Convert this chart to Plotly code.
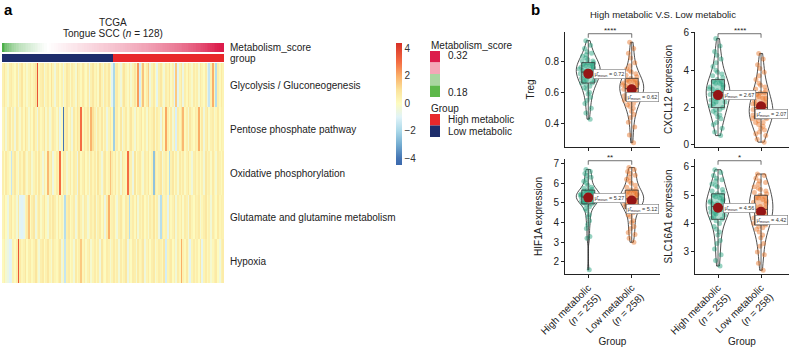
import plotly.graph_objects as go

W, H = 790, 347
FONT = "Liberation Sans, Arial, sans-serif"

# ---------------- Panel a data ----------------
PATHWAYS = ["Glycolysis / Gluconeogenesis", "Pentose phosphate pathway",
            "Oxidative phosphorylation", "Glutamate and glutamine metabolism", "Hypoxia"]

METABOLISM_SCORE = [
    0.180, 0.186, 0.190, 0.193, 0.196, 0.198, 0.200, 0.202, 0.204, 0.205, 0.207, 0.208, 0.209, 0.210, 0.211, 0.212,
    0.213, 0.214, 0.215, 0.216, 0.217, 0.218, 0.219, 0.220, 0.221, 0.221, 0.222, 0.223, 0.224, 0.224, 0.225, 0.226,
    0.227, 0.227, 0.228, 0.229, 0.229, 0.230, 0.231, 0.231, 0.232, 0.233, 0.233, 0.234, 0.235, 0.235, 0.236, 0.237,
    0.237, 0.238, 0.239, 0.239, 0.240, 0.241, 0.241, 0.242, 0.243, 0.243, 0.244, 0.245, 0.245, 0.246, 0.247, 0.247,
    0.248, 0.249, 0.249, 0.250, 0.251, 0.251, 0.252, 0.253, 0.254, 0.254, 0.255, 0.256, 0.257, 0.257, 0.258, 0.259,
    0.260, 0.261, 0.261, 0.262, 0.263, 0.264, 0.265, 0.266, 0.267, 0.268, 0.269, 0.270, 0.271, 0.272, 0.273, 0.274,
    0.275, 0.276, 0.277, 0.278, 0.279, 0.280, 0.281, 0.282, 0.284, 0.285, 0.286, 0.288, 0.289, 0.290, 0.292, 0.293,
    0.295, 0.296, 0.298, 0.300, 0.302, 0.304, 0.306, 0.308, 0.310, 0.312, 0.314, 0.316, 0.318, 0.319, 0.320, 0.321,
]
N_LOW, N_HIGH = 64, 64  # low metabolic samples first, then high metabolic

GLYCOLYSIS = [
    0.4, 0.8, 0.2, -0.3, 0.5, 0.7, 0.3, 0.0, 0.6, -0.5, 0.4, 0.9, 0.1, 0.5, -0.2, 0.3,
    0.6, 0.1, 0.4, 0.8, 3.6, 0.2, 0.5, 0.7, -0.4, 0.3, 0.6, 0.1, 1.0, 0.3, -0.5, 0.5,
    0.7, 0.0, 0.4, -0.6, 0.2, 0.8, 0.5, -0.1, 0.6, 0.3, -0.3, 0.9, 0.4, 0.1, 0.7, 0.3,
    0.0, 0.6, -0.6, 0.4, 0.8, 0.2, 0.5, -0.1, 1.0, 0.3, -0.4, 0.6, 0.3, 0.8, 0.0, -0.9,
    -2.0, 0.5, 0.7, 0.1, -0.5, 0.4, 0.9, 0.3, -0.1, 0.6, -0.3, 0.3, 0.8, 0.2, 2.3, -1.2,
    0.4, 1.6, 0.1, 0.6, 1.4, -0.5, 0.3, 0.7, 0.0, -0.8, 0.5, 0.8, 0.2, -0.4, 0.6, 0.3,
    0.9, -0.1, 0.4, -1.0, 1.5, -0.9, 0.3, 0.7, -0.6, 0.5, 0.1, 0.8, 0.3, -0.2, 0.6, 0.2,
    0.5, -0.3, 0.7, 0.3, 0.0, 0.6, -0.7, -1.5, 0.4, 2.0, 0.2, -1.8, 0.5, 0.1, 0.7, 0.3,
]
PENTOSE = [
    0.2, 0.6, -0.4, 0.4, 0.8, -0.1, 0.5, -0.5, 0.7, 0.3, -0.2, 0.6, 0.1, 0.9, 0.4, -0.3,
    0.5, 0.0, 0.8, 0.3, -0.6, 0.6, 0.1, 0.4, 0.9, -0.2, 0.5, -0.4, 0.2, 0.7, 0.4, -0.1,
    0.6, -0.8, 0.1, -4.0, 0.5, 0.8, 0.0, 0.4, -0.5, 0.7, 0.2, 0.9, 0.5, 3.0, 0.1, 0.6,
    0.3, 0.8, -0.1, 1.9, 1.0, 0.4, -0.3, 0.6, 0.2, 0.8, 0.0, 0.5, -0.6, 0.3, 0.7, 0.1,
    -2.2, 0.4, 0.6, 0.0, 0.8, -0.5, 0.3, 0.7, -0.1, 0.5, 0.9, 0.2, -0.4, 0.6, 0.1, 0.4,
    0.8, 0.0, 0.5, -0.3, 0.7, 0.2, 0.4, 0.9, -0.2, 0.6, 0.3, -0.6, 0.8, 0.1, 2.1, 0.5,
    0.0, 0.7, -0.4, 0.4, -1.1, 0.6, 0.2, 0.9, 1.8, 0.1, 0.5, -0.3, 0.8, 0.3, 0.0, 0.6,
    0.4, 2.0, 0.1, 0.7, -0.5, 0.5, 0.8, -0.1, 0.4, 0.6, -0.2, 0.2, 0.7, 0.0, 0.5, 0.3,
]
OXIDATIVE = [
    0.5, 0.0, 0.7, 0.3, -0.1, -1.5, 0.4, 0.8, 0.1, -0.4, 0.6, 0.2, 0.9, 0.4, -0.2, 0.5,
    0.7, -0.3, 0.3, 0.6, 0.0, 0.8, 0.2, -0.5, 0.5, -0.1, 1.8, 0.4, 0.7, -0.6, 0.1, 0.6,
    0.3, 3.0, 0.0, 0.8, 0.5, -0.4, 0.2, 0.7, -0.1, 0.6, 0.4, -0.7, 0.9, 0.1, 0.5, 0.8,
    0.0, 0.4, -0.3, 0.7, 0.2, 0.6, -0.1, 0.9, 0.3, -0.5, 0.5, 0.8, 0.1, 0.4, 1.6, 0.6,
    0.2, 0.7, -0.1, 0.5, -0.4, 0.8, 0.3, 0.1, 3.0, 0.6, 0.4, -0.6, 0.9, 0.0, 0.5, 0.7,
    0.1, -0.3, 0.6, 0.3, 0.8, 0.0, 0.4, -2.5, 0.7, 0.2, 0.5, 0.9, -0.4, 0.3, 0.6, 0.1,
    -1.8, 0.4, 0.8, 0.0, 0.5, -0.3, 0.7, 0.2, 0.6, -0.1, 0.4, 0.8, 0.1, -0.5, 0.5, 0.7,
    0.2, 0.6, 0.0, 0.4, -0.4, 0.8, 0.3, 0.5, -0.1, 0.7, 0.2, -0.3, 0.6, 0.4, 0.1, 0.5,
]
GLUTAMATE = [
    0.3, 0.6, 0.0, -0.6, 0.5, 0.8, 0.1, 0.4, -0.4, 0.7, -0.9, -1.0, -0.8, 0.2, 0.6, 1.6,
    0.0, 0.5, 0.8, -0.5, 0.3, 0.7, -0.1, 0.4, 0.9, 0.1, -0.4, 0.6, 0.2, 0.8, 0.5, -0.1,
    0.7, 0.1, 0.4, -0.3, -1.8, 0.5, 0.8, 0.0, 0.3, 0.6, -0.5, 0.2, 0.9, 0.4, -0.2, 0.7,
    0.5, -0.4, 0.1, 0.6, 0.3, 0.8, -0.3, 0.4, 0.7, 0.0, 0.5, -0.6, 0.6, 2.0, 0.2, 0.4,
    0.6, 0.0, -0.5, 0.5, 0.8, 0.2, -0.1, 0.7, 0.4, -1.8, 0.3, 0.6, 0.1, 0.8, -0.4, 0.5,
    0.2, 0.7, 0.0, 0.4, -0.3, 0.6, 0.3, 0.9, 0.1, 0.5, -0.6, -1.8, 0.7, 0.2, 0.4, -0.9,
    0.6, 0.1, 0.4, 0.8, -0.4, 0.5, 0.2, 0.7, -0.1, 0.6, 0.4, -0.5, 0.8, 0.3, 0.0, 0.6,
    0.4, 0.7, -0.3, 0.2, 0.5, 0.8, 0.1, 0.4, -0.4, 0.6, 0.3, 0.0, 0.7, 0.2, 0.5, 0.4,
]
HYPOXIA = [
    0.1, 0.4, -0.3, -0.6, -1.0, -0.9, 0.3, 0.0, 0.5, 3.5, 0.7, 0.2, 0.4, 0.8, 0.0, 0.5,
    0.6, 0.1, 0.4, 0.9, 0.2, -0.4, 0.5, 0.7, 0.0, 0.4, 0.8, 0.2, -0.3, 0.6, 0.3, 0.1,
    0.5, 0.8, -0.5, 0.2, -1.5, 0.4, 0.6, 0.0, 0.3, -0.4, 0.7, 0.1, 0.5, 1.5, 0.2, 0.6,
    -0.1, 0.4, 0.7, -0.3, 0.3, 0.6, 0.1, 0.5, -0.5, 0.8, 0.2, 0.0, 0.6, 0.4, -0.3, 0.3,
    0.7, 0.2, 0.5, -0.4, 0.6, 0.1, 0.4, 0.8, -0.6, 0.3, 0.0, 0.6, 0.5, -0.3, 0.7, 0.2,
    0.4, 0.8, -0.5, 0.3, 0.6, 0.0, 0.5, 0.7, -0.3, 0.2, 0.6, 0.4, 0.1, 0.8, -1.2, 0.3,
    0.5, 0.7, 0.0, 0.4, -0.4, 0.6, 0.2, 2.0, 0.4, 0.1, 0.7, -0.3, -0.9, 0.3, 0.6, 0.2,
    0.5, 0.0, 0.7, -0.8, 0.3, 0.6, 0.1, 0.4, -0.3, 0.2, 0.5, 0.7, 0.0, -0.5, 0.4, 0.6,
]
HEAT_TICKS = [-4, -2, 0, 2, 4]
SCORE_LEGEND_LABELS = ["0.32", "", "", "0.18"]
GROUP_LEGEND_LABELS = ["High metabolic", "Low metabolic"]

# ---------------- Panel b data ----------------
GROUP_LABELS = ["High metabolic<br>(<i>n</i> = 255)", "Low metabolic<br>(<i>n</i> = 258)"]

TREG_HIGH = [0.43, 0.47, 0.50, 0.53, 0.55, 0.57, 0.59, 0.60, 0.62, 0.63, 0.64, 0.65, 0.66, 0.66, 0.67, 0.68,
             0.68, 0.69, 0.70, 0.70, 0.71, 0.71, 0.72, 0.72, 0.73, 0.73, 0.73, 0.74, 0.74, 0.75, 0.75, 0.76,
             0.76, 0.77, 0.77, 0.78, 0.78, 0.79, 0.79, 0.80, 0.80, 0.81, 0.82, 0.83, 0.84, 0.85, 0.86, 0.88,
             0.90, 0.93]
TREG_LOW = [0.28, 0.33, 0.38, 0.41, 0.44, 0.46, 0.48, 0.50, 0.51, 0.52, 0.53, 0.54, 0.55, 0.55, 0.56, 0.57,
            0.58, 0.58, 0.59, 0.60, 0.60, 0.61, 0.61, 0.62, 0.62, 0.63, 0.63, 0.64, 0.64, 0.65, 0.65, 0.66,
            0.66, 0.67, 0.67, 0.68, 0.68, 0.69, 0.70, 0.71, 0.72, 0.73, 0.74, 0.75, 0.77, 0.79, 0.82, 0.85,
            0.88, 0.92]
CXCL12_HIGH = [0.5, 0.7, 0.9, 1.1, 1.2, 1.4, 1.5, 1.6, 1.7, 1.8, 1.9, 1.9, 2.0, 2.1, 2.2, 2.3, 2.3, 2.4,
               2.5, 2.5, 2.6, 2.6, 2.7, 2.7, 2.8, 2.8, 2.9, 2.9, 3.0, 3.0, 3.1, 3.1, 3.2, 3.3, 3.3, 3.4,
               3.4, 3.5, 3.6, 3.7, 3.8, 3.9, 4.0, 4.2, 4.4, 4.6, 4.8, 5.0, 5.3, 5.7]
CXCL12_LOW = [0.15, 0.3, 0.5, 0.6, 0.7, 0.8, 0.9, 1.0, 1.1, 1.2, 1.2, 1.3, 1.4, 1.4, 1.5, 1.5, 1.6, 1.6,
              1.7, 1.7, 1.8, 1.8, 1.9, 1.9, 2.0, 2.0, 2.1, 2.1, 2.2, 2.2, 2.3, 2.4, 2.5, 2.5, 2.6, 2.7,
              2.8, 2.8, 2.9, 3.0, 3.1, 3.2, 3.3, 3.5, 3.7, 3.9, 4.1, 4.3, 4.6, 4.9]
HIF1A_HIGH = [1.6, 3.2, 3.3, 3.7, 3.9, 4.1, 4.3, 4.4, 4.6, 4.7, 4.8, 4.9, 4.95, 5.0, 5.0, 5.05, 5.1, 5.1,
              5.15, 5.2, 5.2, 5.25, 5.25, 5.3, 5.3, 5.3, 5.35, 5.35, 5.4, 5.4, 5.45, 5.45, 5.5, 5.5, 5.55,
              5.6, 5.6, 5.65, 5.7, 5.75, 5.8, 5.9, 6.0, 6.1, 6.2, 6.3, 6.4, 6.5, 6.6, 6.7]
HIF1A_LOW = [3.0, 3.2, 3.4, 3.5, 3.7, 3.8, 4.0, 4.1, 4.3, 4.4, 4.5, 4.6, 4.7, 4.8, 4.8, 4.85, 4.9, 4.95,
             5.0, 5.0, 5.05, 5.1, 5.1, 5.15, 5.2, 5.2, 5.25, 5.3, 5.3, 5.35, 5.4, 5.4, 5.45, 5.5, 5.5,
             5.55, 5.6, 5.65, 5.7, 5.8, 5.9, 6.0, 6.1, 6.2, 6.3, 6.4, 6.5, 6.6, 6.7, 6.8]
SLC16A1_HIGH = [2.5, 2.7, 2.9, 3.1, 3.3, 3.4, 3.6, 3.7, 3.8, 3.9, 4.0, 4.1, 4.15, 4.2, 4.25, 4.3, 4.35,
                4.4, 4.4, 4.45, 4.5, 4.5, 4.55, 4.55, 4.6, 4.6, 4.65, 4.7, 4.7, 4.75, 4.8, 4.8, 4.85, 4.9,
                4.95, 5.0, 5.0, 5.05, 5.1, 5.15, 5.2, 5.3, 5.35, 5.4, 5.5, 5.55, 5.6, 5.7, 5.8, 5.9]
SLC16A1_LOW = [2.35, 2.6, 2.9, 3.0, 3.2, 3.3, 3.5, 3.6, 3.7, 3.8, 3.85, 3.9, 3.95, 4.0, 4.05, 4.1, 4.15,
               4.2, 4.25, 4.3, 4.35, 4.4, 4.4, 4.45, 4.5, 4.5, 4.55, 4.6, 4.6, 4.65, 4.7, 4.75, 4.8, 4.85,
               4.9, 4.9, 4.95, 5.0, 5.05, 5.1, 5.15, 5.2, 5.25, 5.3, 5.4, 5.45, 5.5, 5.6, 5.7, 5.75]

PANEL_TITLES = ["Treg", "CXCL12 expression", "HIF1A expression", "SLC16A1 expression"]
PANEL_MEANS = [[0.72, 0.62], [2.67, 2.07], [5.27, 5.12], [4.56, 4.42]]
PANEL_SIGNIF = ["****", "****", "**", "*"]
PANEL_TICKS = [[0.4, 0.6, 0.8], [0, 2, 4, 6], [2, 3, 4, 5, 6, 7], [3, 4, 5, 6]]
PANEL_RANGES = [[0.253, 0.985], [-0.11, 6.05], [1.39, 7.23], [2.22, 6.28]]
PANEL_DATA = [[TREG_HIGH, TREG_LOW], [CXCL12_HIGH, CXCL12_LOW],
              [HIF1A_HIGH, HIF1A_LOW], [SLC16A1_HIGH, SLC16A1_LOW]]

for row in (GLYCOLYSIS, PENTOSE, OXIDATIVE, GLUTAMATE, HYPOXIA):
    assert len(row) == 128
assert len(METABOLISM_SCORE) == 128

# ---------------- styles ----------------
def fx(px):
    return px / W


def fy(py):
    return 1 - py / H


HM_MIN, HM_MAX = -4.5, 4.4
HM_STOPS = [(-4.5, "#3C69AD"), (-4, "#4575B4"), (-3, "#74ADD1"), (-2, "#ABD9E9"), (-1, "#E0F3F8"),
            (0, "#FDFBC0"), (1, "#FBE29A"), (2, "#FAAF68"), (3, "#F46D43"), (4.4, "#D73027")]
HM_SCALE = [[(v - HM_MIN) / (HM_MAX - HM_MIN), c] for v, c in HM_STOPS]
SCORE_SCALE = [[0, "#4DAF4A"], [0.3, "#FFFFFF"], [1, "#DC1C4B"]]
SCORE_LEGEND_COLORS = ["#DC1C4B", "#F4A7B7", "#A9D6A0", "#5DB84A"]
HIGH_COL, LOW_COL = "#E8282B", "#1E2D6B"
GROUP_SCALE = [[0, LOW_COL], [0.5, LOW_COL], [0.5, HIGH_COL], [1, HIGH_COL]]
PT_COLORS = ["rgba(27,158,119,0.45)", "rgba(230,110,30,0.45)"]
BOX_COLORS = ["rgba(27,158,119,0.35)", "rgba(230,110,30,0.35)"]
MEAN_COL = "#941515"
POS = [0, 1]

fig = go.Figure()

# ---------------- Panel a ----------------
cols = list(range(len(METABOLISM_SCORE)))
fig.add_trace(go.Heatmap(
    z=[GLYCOLYSIS, PENTOSE, OXIDATIVE, GLUTAMATE, HYPOXIA], x=cols, y=list(range(len(PATHWAYS))),
    colorscale=HM_SCALE, zmin=HM_MIN, zmax=HM_MAX, xaxis="x", yaxis="y", hoverinfo="skip",
    colorbar=dict(x=fx(396), xanchor="left", y=fy(104), yanchor="middle", len=122, lenmode="pixels",
                  thickness=6, thicknessmode="pixels", outlinewidth=0, xpad=0, ypad=0,
                  tickvals=HEAT_TICKS, ticks="", tickfont=dict(family=FONT, size=10, color="#333"))))
fig.add_trace(go.Heatmap(z=[METABOLISM_SCORE], x=cols, y=[0], colorscale=SCORE_SCALE,
                         zmin=0.18, zmax=0.32, showscale=False, xaxis="x", yaxis="y2", hoverinfo="skip"))
group_codes = [0] * N_LOW + [1] * N_HIGH
fig.add_trace(go.Heatmap(z=[group_codes], x=cols, y=[0], colorscale=GROUP_SCALE, zmin=0, zmax=1,
                         showscale=False, xaxis="x", yaxis="y3", hoverinfo="skip"))

lay = dict(
    width=W, height=H, margin=dict(l=0, r=0, t=0, b=0, autoexpand=False), plot_bgcolor="white",
    paper_bgcolor="white", showlegend=False, font=dict(family=FONT, size=10, color="#222"),
    violinmode="overlay", boxmode="overlay",
)
lay["xaxis"] = dict(domain=[fx(2), fx(224)], range=[-0.5, 127.5], visible=False, anchor="y", automargin=False)
right_lab = dict(side="right", ticks="", showline=False, showgrid=False, zeroline=False, anchor="x",
                 automargin=False, ticklabelstandoff=5, tickfont=dict(size=10, color="#222"))
lay["yaxis"] = dict(domain=[fy(283), fy(63)], range=[4.5, -0.5], tickvals=list(range(len(PATHWAYS))),
                    ticktext=PATHWAYS, **right_lab)
lay["yaxis2"] = dict(domain=[fy(52), fy(43)], range=[-0.5, 0.5], tickvals=[0], ticktext=["Metabolism_score"],
                     **right_lab)
lay["yaxis3"] = dict(domain=[fy(62), fy(54)], range=[-0.5, 0.5], tickvals=[0], ticktext=["group"], **right_lab)

annotations = []
shapes = []


def txt(x, y, s, size=10, xanchor="center", bold=False, color="#222"):
    annotations.append(dict(x=fx(x), y=fy(y), xref="paper", yref="paper", text=(f"<b>{s}</b>" if bold else s),
                            showarrow=False, xanchor=xanchor, yanchor="middle",
                            font=dict(size=size, color=color, family=FONT)))


txt(2, 10, "a", size=15, xanchor="left", bold=True, color="#000")
txt(529, 9, "b", size=15, xanchor="left", bold=True, color="#000")
txt(113, 22, "TCGA")
txt(113, 34, "Tongue SCC (<i>n</i> = 128)")

# legends for annotation bars
txt(429, 45, "Metabolism_score", xanchor="left")
sq_top, sq_h = 51, 11.5
for i, c in enumerate(SCORE_LEGEND_COLORS):
    shapes.append(dict(type="rect", xref="paper", yref="paper", x0=fx(430), x1=fx(440),
                       y0=fy(sq_top + (i + 1) * sq_h), y1=fy(sq_top + i * sq_h), fillcolor=c, line_width=0))
    if SCORE_LEGEND_LABELS[i]:
        txt(446, sq_top + i * sq_h + (5 if i == 0 else 6.5), SCORE_LEGEND_LABELS[i], xanchor="left")
txt(429, 108, "Group", xanchor="left")
for i, (lab, c) in enumerate(zip(GROUP_LEGEND_LABELS, [HIGH_COL, LOW_COL])):
    shapes.append(dict(type="rect", xref="paper", yref="paper", x0=fx(430), x1=fx(440),
                       y0=fy(114 + (i + 1) * sq_h), y1=fy(114 + i * sq_h), fillcolor=c, line_width=0))
    txt(446, 114 + i * sq_h + sq_h / 2, lab, xanchor="left")

# ---------------- Panel b ----------------
txt(663, 14, "High metabolic V.S. Low metabolic", size=9.5)
panel_x = [[565, 660], [695, 789], [565, 660], [695, 789]]
panel_y = [[32, 147], [32, 147], [159, 274], [159, 274]]

for k in range(4):
    xa, ya = f"x{k + 2}", f"y{k + 4}"
    for g in range(2):
        vals = PANEL_DATA[k][g]
        fig.add_trace(go.Violin(y=vals, x0=POS[g], xaxis=xa, yaxis=ya, width=0.55, spanmode="hard",
                                fillcolor="rgba(0,0,0,0)", line=dict(color="#222", width=0.8),
                                points="all", jitter=0.8, pointpos=0,
                                marker=dict(color=PT_COLORS[g], size=5, line=dict(width=0)),
                                box_visible=False, meanline_visible=False, hoverinfo="skip"))
        fig.add_trace(go.Box(y=vals, x0=POS[g], xaxis=xa, yaxis=ya, width=0.3, fillcolor=BOX_COLORS[g],
                             line=dict(color="#333", width=0.8), boxpoints=False, whiskerwidth=0,
                             hoverinfo="skip"))
        fig.add_trace(go.Scatter(x=[POS[g]], y=[PANEL_MEANS[k][g]], xaxis=xa, yaxis=ya, mode="markers",
                                 marker=dict(color=MEAN_COL, size=10), hoverinfo="skip"))
        annotations.append(dict(x=POS[g], y=PANEL_MEANS[k][g], xref=xa, yref=ya,
                                text=f"μ̂<sub>mean</sub> = {PANEL_MEANS[k][g]:.2f}", showarrow=False,
                                xanchor="left", yanchor="middle", xshift=(5 if g == 0 else -6),
                                yshift=(0 if g == 0 else -8), bgcolor="white", bordercolor="#777",
                                borderwidth=0.6, borderpad=1, font=dict(size=5.5, color="#333")))
    # significance bracket
    shapes.append(dict(type="path", xref=xa, yref=f"{ya} domain",
                       path=f"M {POS[0]},0.95 L {POS[0]},0.985 L {POS[1]},0.985 L {POS[1]},0.95",
                       line=dict(color="#333", width=0.7)))
    annotations.append(dict(x=(POS[0] + POS[1]) / 2, y=0.985, xref=xa, yref=f"{ya} domain",
                            text=PANEL_SIGNIF[k], showarrow=False, yanchor="bottom", yshift=-3,
                            font=dict(size=8, color="#222")))
    bottom = k >= 2
    lay[f"xaxis{k + 2}"] = dict(
        domain=[fx(panel_x[k][0]), fx(panel_x[k][1])], anchor=ya, range=[-0.535, 1.65], type="linear",
        tickvals=POS, ticktext=GROUP_LABELS, showticklabels=bottom, tickangle=-45, automargin=False,
        ticks="outside", ticklen=3, tickcolor="#222", showline=True, linecolor="#222", linewidth=1,
        showgrid=False, zeroline=False, tickfont=dict(size=10, color="#222"),
        title=dict(text="Group" if bottom else "", font=dict(size=10, color="#222"), standoff=1))
    lay[f"yaxis{k + 4}"] = dict(
        domain=[fy(panel_y[k][1]), fy(panel_y[k][0])], anchor=xa, range=PANEL_RANGES[k], automargin=False,
        tickvals=PANEL_TICKS[k], ticks="outside", ticklen=3, tickcolor="#222", showline=True,
        linecolor="#222", linewidth=1, showgrid=False, zeroline=False,
        tickfont=dict(size=10, color="#222"),
        title=dict(text=PANEL_TITLES[k], font=dict(size=10, color="#222"), standoff=8))

lay["annotations"] = annotations
lay["shapes"] = shapes
fig.update_layout(**lay)
fig.write_html("out.html", config={"displayModeBar": False},
               post_script="document.body.style.margin='0';document.body.style.overflow='hidden';")
